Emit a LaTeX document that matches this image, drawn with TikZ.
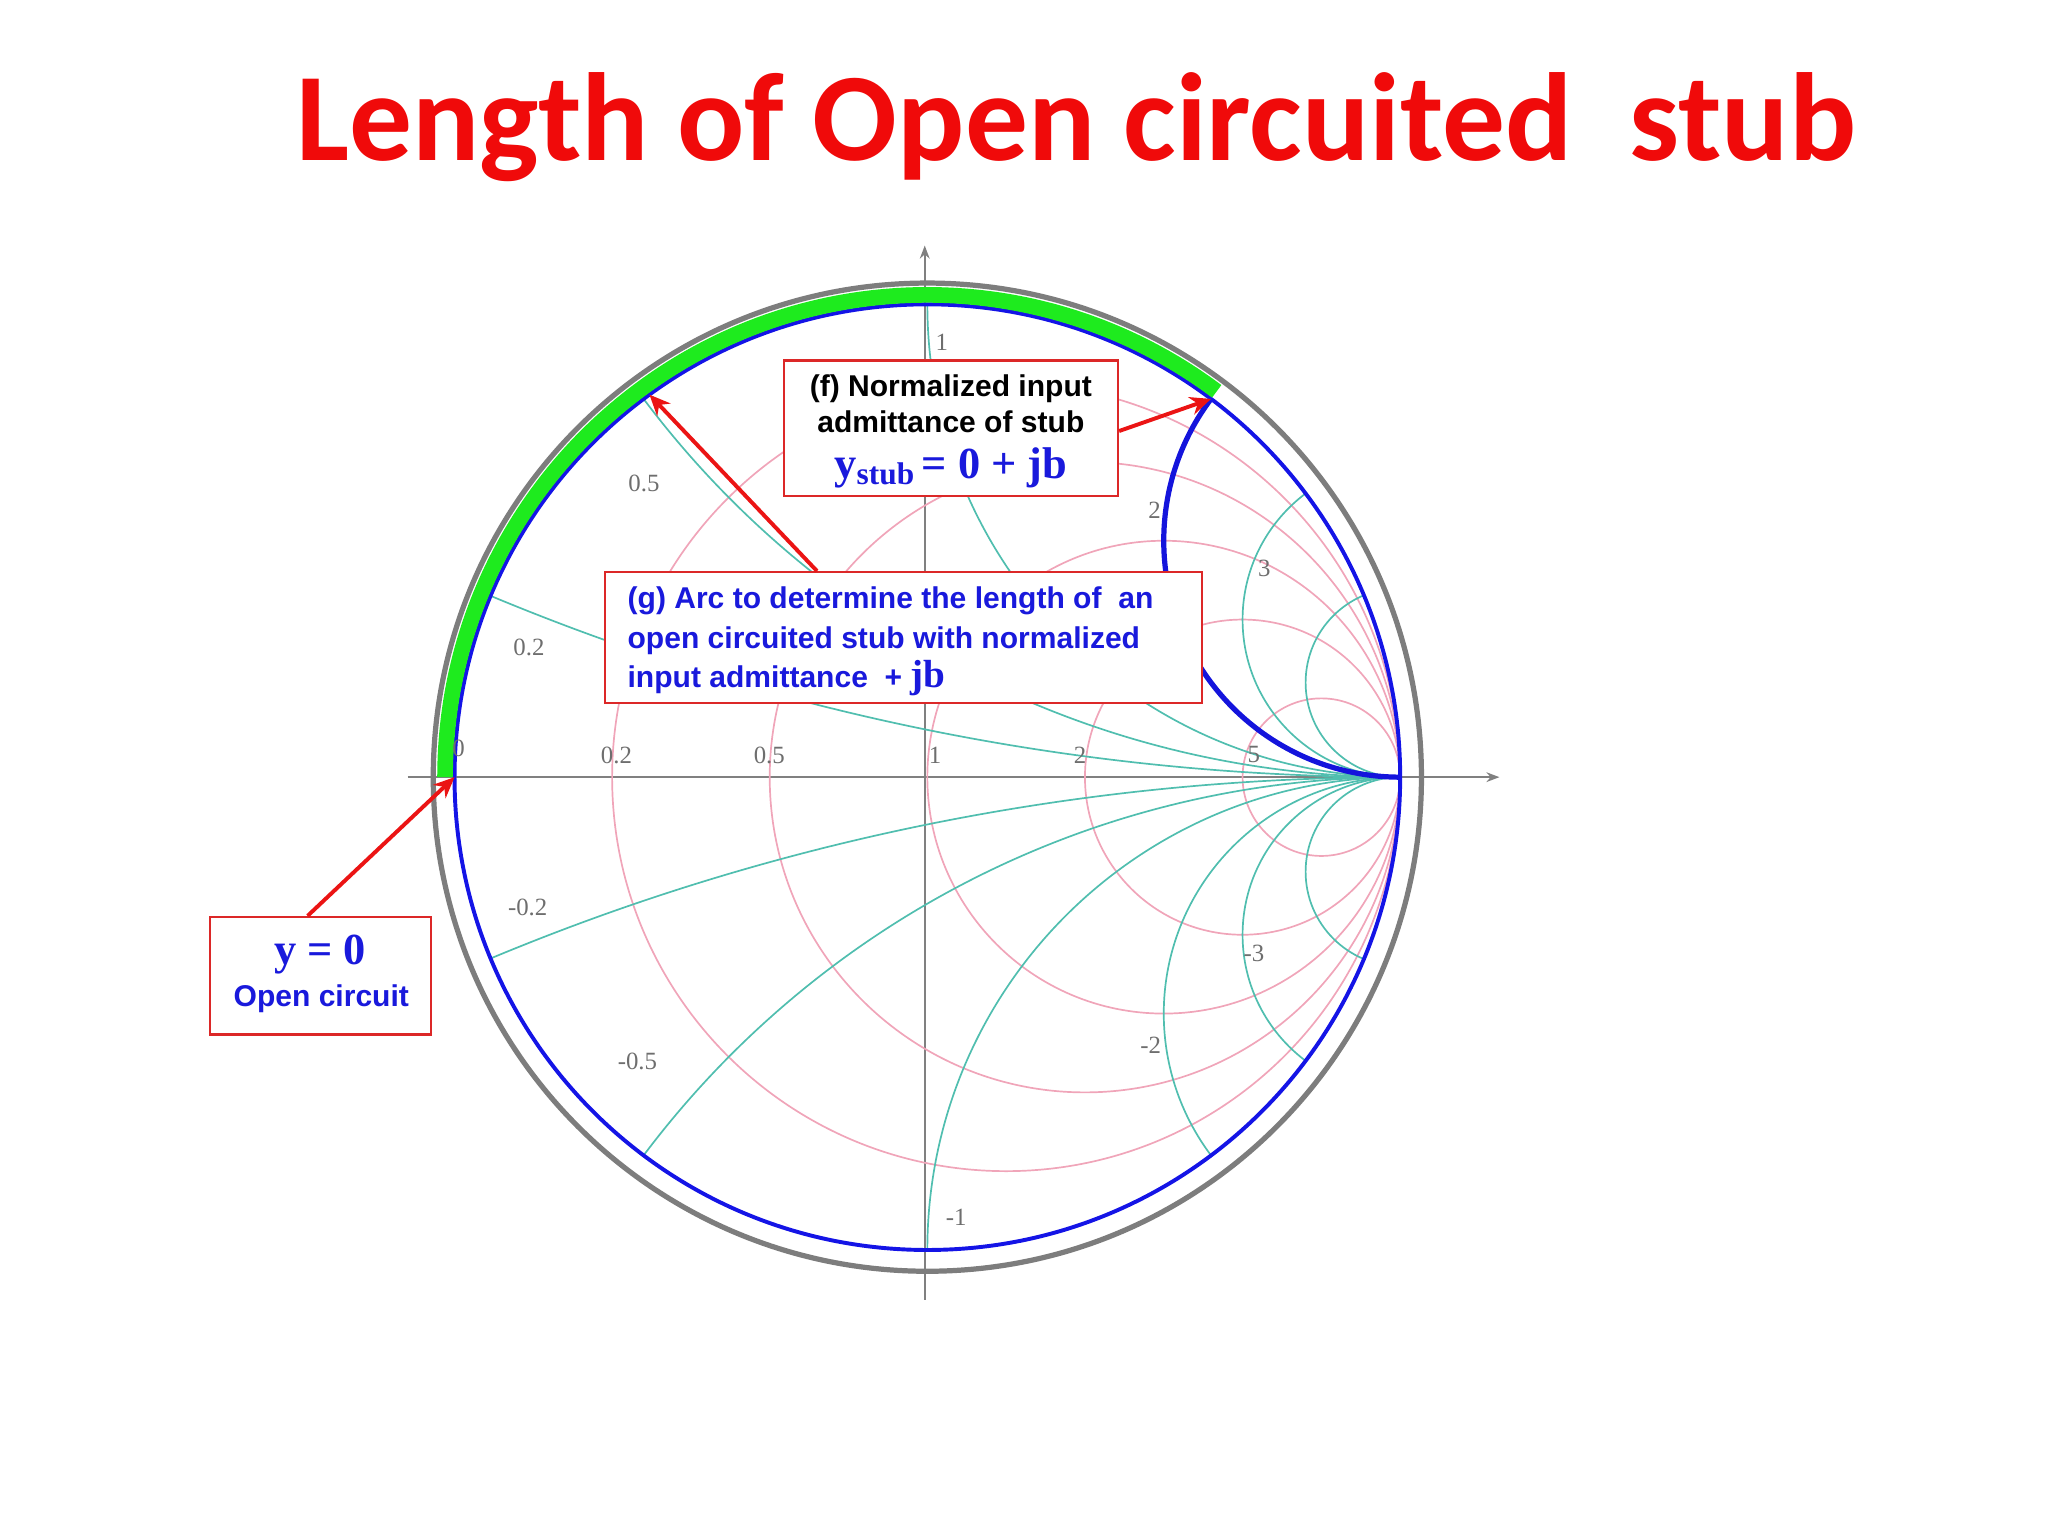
\documentclass[tikz,border=0pt]{standalone}
\usetikzlibrary{arrows.meta}
\usepackage{fontspec}
\setmainfont{Liberation Serif}
\newfontfamily\carl{Carlito}
\newfontfamily\ars{Liberation Sans}
\begin{document}
\begin{tikzpicture}[x=1pt,y=-1pt,
  pinkc/.style={draw={rgb,255:red,240;green,165;blue,185},line width=1.3pt},
  cyanc/.style={draw={rgb,255:red,80;green,190;blue,175},line width=1.3pt},
  alab/.style={font=\fontsize{19}{19}\selectfont,text={rgb,255:red,110;green,110;blue,110},inner sep=1pt},
  rbox/.style={draw={rgb,255:red,220;green,40;blue,40},line width=1.6pt,fill=white,align=center,inner sep=0pt},
  rarr/.style={draw={rgb,255:red,235;green,20;blue,20},line width=3pt,-{Stealth[length=16pt,width=14pt]}},
  bt/.style={text={rgb,255:red,25;green,25;blue,220}}]
\useasboundingbox (0,0) rectangle (1568,1176);
\node[font=\carl\bfseries\fontsize{96}{96}\selectfont,text={rgb,255:red,240;green,10;blue,10}] (title) at (824,97) {Length of Open circuited\ \ stub};
% axes
\draw[gray,line width=1.3pt,-{Stealth[length=10pt]}] (312,595) -- (1148,595);
\draw[gray,line width=1.3pt,-{Stealth[length=10pt]}] (708,995) -- (708,188);
\begin{scope}[x=362pt,y=362pt,shift={(710pt,-595pt)}]
  \foreach \r in {0.2,0.5,1,2,5} \draw[pinkc] ({\r/(1+\r)},0) circle ({1/(1+\r)});
  \begin{scope}
    \clip (0,0) circle (1);
    \foreach \xx in {0.2,0.5,1,2,3,5} {
      \draw[cyanc] (1,{1/\xx}) circle ({1/\xx});
      \draw[cyanc] (1,{-1/\xx}) circle ({1/\xx});
    }
    \draw[line width=4pt,draw={rgb,255:red,20;green,20;blue,220}] (1,0.5) circle (0.5);
  \end{scope}
  \draw[line width=3pt,draw={rgb,255:red,20;green,20;blue,230}] (0,0) circle (1);
  \draw[line width=4pt,draw={rgb,255:red,125;green,125;blue,125}] (0,0) circle (1.045);
  \draw[line width=12pt,draw={rgb,255:red,30;green,235;blue,30}] (-1.02,0) arc[start angle=180,end angle=53.13,radius=1.02];
  \coordinate (ptf) at (0.6,0.8);
  \coordinate (ptg) at ({-cos(54)},{sin(54)});
  \coordinate (pto) at (-1,0);
\end{scope}
% axis labels
\node[alab] (l0) at (351,573) {0};
\node[alab] (l1) at (472,578) {0.2};
\node[alab] (l2) at (589,578) {0.5};
\node[alab] (l3) at (716,578) {1};
\node[alab] (l4) at (827,578) {2};
\node[alab] (l5) at (960,578) {5};
\node[alab] (t1) at (721,262) {1};
\node[alab] (t2) at (493,370) {0.5};
\node[alab] (t3) at (405,496) {0.2};
\node[alab] (t4) at (884,391) {2};
\node[alab] (t5) at (968,435) {3};
\node[alab] (b1) at (404,695) {-0.2};
\node[alab] (b2) at (488,813) {-0.5};
\node[alab] (b3) at (732,932) {-1};
\node[alab] (b4) at (881,800) {-2};
\node[alab] (b5) at (960,730) {-3};
% boxes
\node[rbox,minimum width=256pt,minimum height=104pt] (fbox) at (728,328) {};
\node[font=\ars\bfseries\fontsize{23}{28}\selectfont,align=center] (ftxt) at (728,309) {(f) Normalized input\\admittance of stub};
\node[bt,font=\bfseries\fontsize{34}{34}\selectfont] (fy) at (728,358) {y\raisebox{-5pt}{\fontsize{24}{24}\selectfont stub}\,= 0 + jb};
\node[rbox,minimum width=457pt,minimum height=100pt] (gbox) at (691.5,488) {};
\node[bt,font=\ars\bfseries\fontsize{23}{30}\selectfont,align=left,anchor=north west] (gtxt) at (477,446) {(g) Arc to determine the length of\ \ an\\open circuited stub with normalized\\input admittance\ \ + \fontsize{30}{30}\selectfont\rmfamily jb};
\node[rbox,minimum width=169pt,minimum height=90pt] (obox) at (245.5,747) {};
\node[bt,font=\bfseries\fontsize{34}{34}\selectfont] (oy) at (245,731) {y = 0};
\node[bt,font=\ars\bfseries\fontsize{23}{23}\selectfont] (ot) at (246,765) {Open circuit};
% arrows
\draw[rarr] (fbox.east) ++(0,2) -- (ptf);
\draw[rarr] (gbox.north) ++(-66,0) -- (ptg);
\draw[rarr] (obox.north) ++(-10,0) -- (pto);
\end{tikzpicture}
\end{document}
